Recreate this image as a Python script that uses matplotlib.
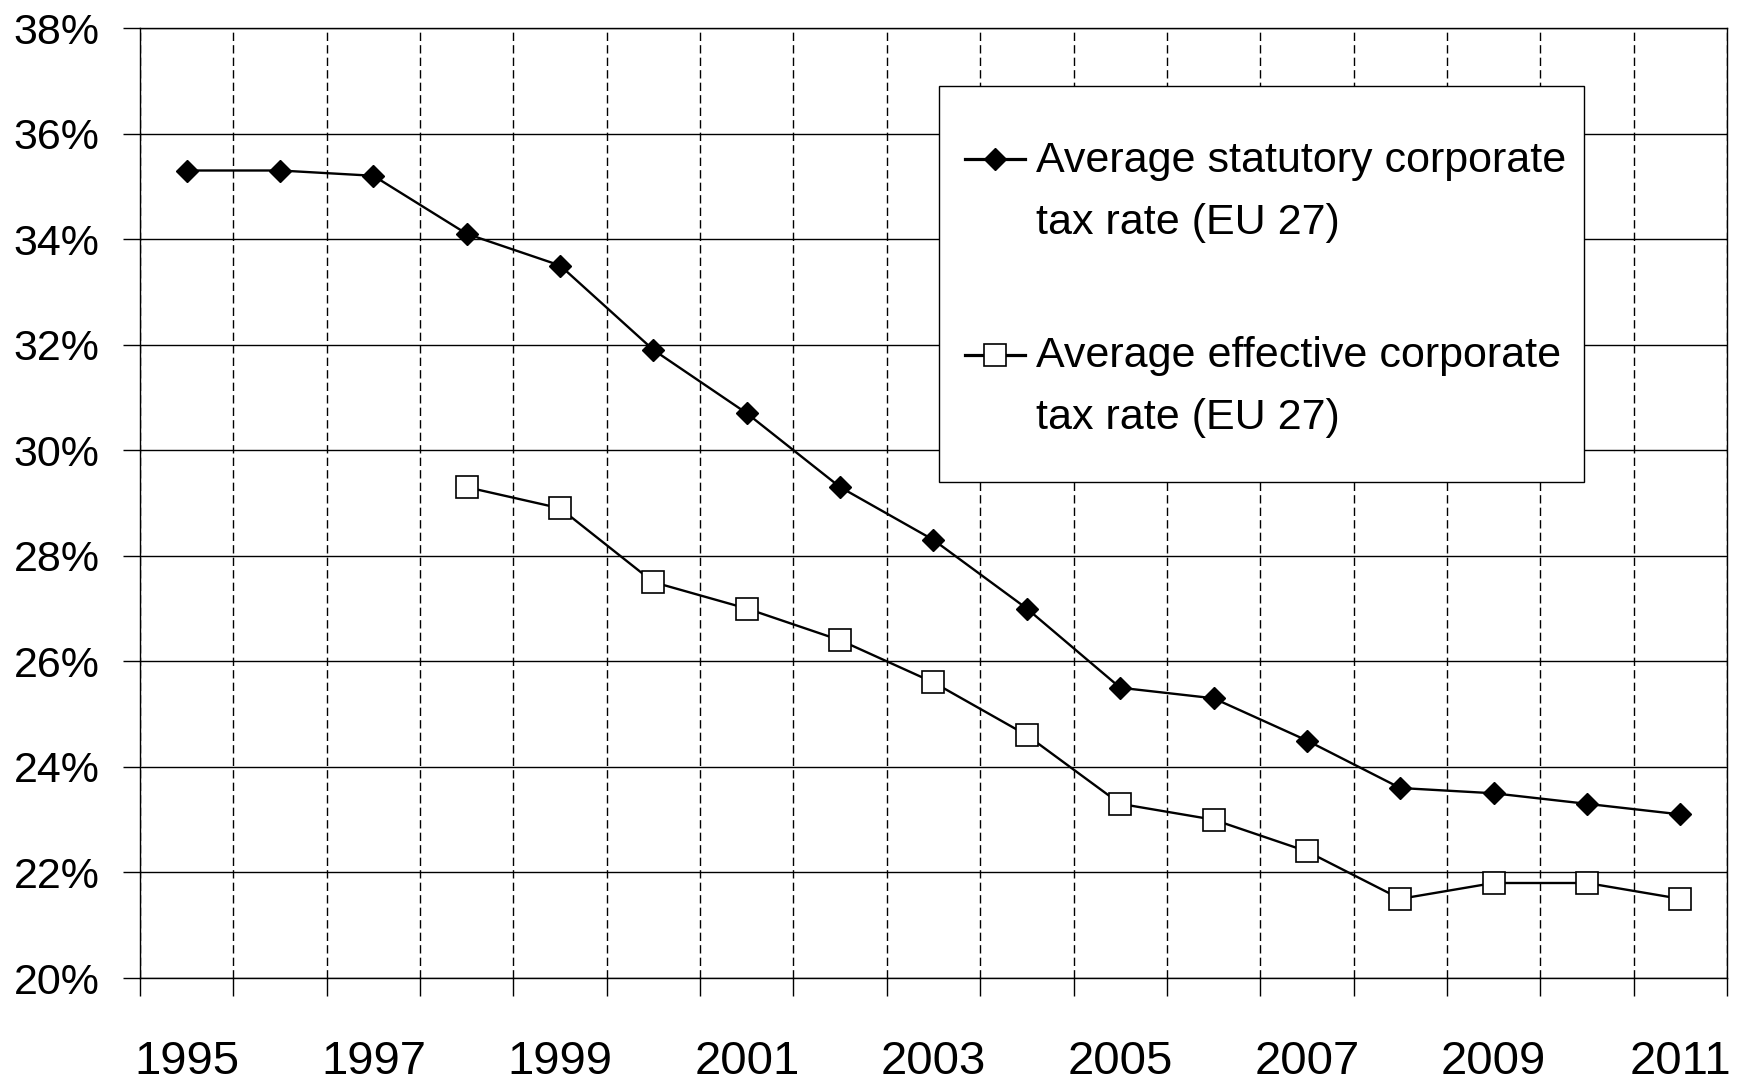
import numpy as np
import matplotlib.pyplot as plt
from matplotlib.lines import Line2D
from matplotlib.patches import Rectangle

# data (percent)
years = list(range(1995, 2012))
statutory_rate = [35.3, 35.3, 35.2, 34.1, 33.5, 31.9, 30.7, 29.3, 28.3,
                  27.0, 25.5, 25.3, 24.5, 23.6, 23.5, 23.3, 23.1]
effective_years = list(range(1998, 2012))
effective_rate = [29.3, 28.9, 27.5, 27.0, 26.4, 25.6, 24.6, 23.3, 23.0,
                  22.4, 21.5, 21.8, 21.8, 21.5]
label_years = years[::2]
y_ticks = list(range(20, 39, 2))
series_labels = ["Average statutory corporate\ntax rate (EU 27)",
                 "Average effective corporate\ntax rate (EU 27)"]

W, H = 1745, 1088
DPI = 100


def fx(px):
    return px / W


def fy(py):
    return 1 - py / H


plt.rcParams['font.family'] = ['Liberation Sans', 'DejaVu Sans']

fig = plt.figure(figsize=(W / DPI, H / DPI), dpi=DPI)
ax = fig.add_axes([fx(140), fy(978), (1727 - 140) / W, (978 - 28) / H])

stat_style = dict(color='black', lw=1.7, marker='D', ms=10.9,
                  mfc='black', mec='black')
eff_style = dict(color='black', lw=1.7, marker='s', ms=15.5,
                 mfc='white', mec='black', mew=1.2)

ax.plot(years, statutory_rate, zorder=3, **stat_style)
ax.plot(effective_years, effective_rate, zorder=3, **eff_style)

ax.set_xlim(years[0] - 0.5, years[-1] + 0.5)
ax.set_ylim(y_ticks[0], y_ticks[-1])

# category boundaries carry ticks and dashed gridlines
boundaries = np.arange(years[0] - 0.5, years[-1] + 1, 1.0)
ax.set_xticks(boundaries)
ax.set_xticklabels([])
ax.set_xticks(label_years, minor=True)
ax.set_xticklabels([str(y) for y in label_years], minor=True, fontsize=34)
ax.tick_params(axis='x', which='major', direction='out', length=13,
               width=1.0, color='black')
ax.tick_params(axis='x', which='minor', length=0, pad=44.5)

ax.set_yticks(y_ticks)
ax.set_yticklabels([f"{v}%" for v in y_ticks], fontsize=31)
ax.tick_params(axis='y', direction='out', length=12, width=1.0,
               color='black', pad=17)

ax.grid(True, axis='y', which='major', color='black', lw=1.0, ls='-')
ax.grid(True, axis='x', which='major', color='black', lw=1.0,
        ls=(0, (6, 3)))
ax.set_axisbelow(True)
for s in ax.spines.values():
    s.set_color('black')
    s.set_linewidth(1.0)

# legend drawn by hand so the handle sits on the first text line
box = Rectangle((fx(939), fy(482)), (1584 - 939) / W, (482 - 86) / H,
                transform=fig.transFigure, facecolor='white',
                edgecolor='black', lw=1.0, zorder=5)
fig.add_artist(box)

handle_y = [159, 355]
first_baseline = [172, 367]
line_step = 62
for i, (label, style) in enumerate(zip(series_labels, [stat_style, eff_style])):
    hstyle = dict(style)
    hstyle['lw'] = 2.3
    h = Line2D([fx(965), fx(995), fx(1025)], [fy(handle_y[i])] * 3,
               transform=fig.transFigure, markevery=[1], zorder=6, **hstyle)
    fig.add_artist(h)
    for j, part in enumerate(label.split('\n')):
        fig.text(fx(1036), fy(first_baseline[i] + j * line_step), part,
                 fontsize=31, va='baseline', ha='left', zorder=6)

fig.savefig('out.png', dpi=DPI)
